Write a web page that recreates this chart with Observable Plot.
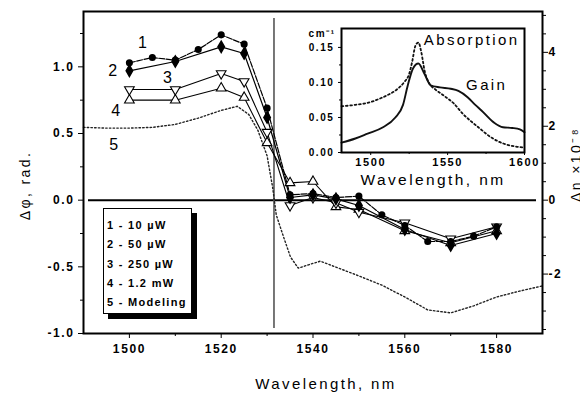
<!DOCTYPE html>
<html>
<head>
<meta charset="utf-8">
<script src="https://cdn.jsdelivr.net/npm/d3@7"></script>
<script src="https://cdn.jsdelivr.net/npm/@observablehq/plot@0.6"></script>
<style>
  html, body { margin: 0; padding: 0; background: #fff; overflow: hidden; }
  #chart { position: relative; width: 580px; height: 395px; font-family: "Liberation Sans", Arial, sans-serif; }
  #chart svg { position: absolute; }
  #chart svg text { letter-spacing: 1.6px; }
  #chart svg .wide text { letter-spacing: 2.4px; }
  .legend {
    position: absolute; left: 103px; top: 208px; width: 89px; height: 106px;
    box-sizing: border-box; border: 1.5px solid #000; background: #fff;
    box-shadow: 5px 5px 0 #000; padding: 7px 0 0 3px;
    font: bold 11px "Liberation Sans", Arial, sans-serif; letter-spacing: 1.3px; line-height: 19.3px;
    white-space: nowrap;
  }
</style>
</head>
<body>
<div id="chart"></div>
<script>
// Phase shift Δφ (rad) versus wavelength for four pump powers
const wlFine = [1500, 1505, 1510, 1515, 1520, 1525, 1530, 1535, 1540, 1545, 1550, 1555, 1560, 1565, 1570, 1575, 1580];
const phase10uW = [1.03, 1.07, 1.05, 1.13, 1.24, 1.17, 0.69, 0.04, 0.05, 0.02, 0.03, -0.11, -0.19, -0.31, -0.31, -0.27, -0.20];

const wlCoarse = [1500, 1510, 1520, 1525, 1530, 1535, 1540, 1545, 1550, 1560, 1570, 1580];
const phase50uW = [0.97, 1.04, 1.15, 1.10, 0.62, 0.02, 0.04, 0.01, -0.04, -0.22, -0.34, -0.25];
const phase250uW = [0.83, 0.83, 0.95, 0.89, 0.51, -0.04, 0.02, -0.02, -0.09, -0.17, -0.29, -0.20];
const phase1_2mW = [0.75, 0.75, 0.84, 0.77, 0.43, 0.13, 0.14, -0.05, -0.07, -0.23, -0.32, -0.23];

// Modelled refractive index change Δn (×10⁻⁸, right axis)
const modelWl = [1490, 1495, 1500, 1505, 1510, 1515, 1520, 1523.5, 1526, 1528, 1530, 1531.2, 1532, 1533.6, 1535.1, 1536.8, 1539, 1541.6, 1546, 1550, 1555, 1560, 1565, 1570, 1575, 1580, 1585, 1590];
const modelDn = [1.97, 1.95, 1.95, 1.97, 2.05, 2.22, 2.43, 2.54, 2.32, 1.89, 1.20, 0.35, -0.40, -1.00, -1.54, -1.84, -1.75, -1.65, -1.86, -2.05, -2.30, -2.62, -2.97, -3.05, -2.86, -2.62, -2.46, -2.32];

// Inset: absorption and gain spectra (cm⁻¹)
const absWl = [1481, 1490, 1500, 1506, 1511, 1517, 1522, 1525, 1527, 1529, 1531, 1533, 1535, 1538, 1542, 1547, 1554, 1560, 1565, 1570, 1578, 1586, 1593, 1600];
const absCoef = [0.066, 0.068, 0.072, 0.077, 0.082, 0.090, 0.101, 0.112, 0.130, 0.152, 0.157, 0.142, 0.117, 0.099, 0.090, 0.082, 0.070, 0.055, 0.045, 0.036, 0.022, 0.013, 0.009, 0.007];
const gainWl = [1481, 1490, 1498, 1508, 1516, 1521, 1524, 1527.5, 1531, 1535, 1539, 1545, 1552, 1557, 1563, 1568, 1572, 1580, 1586, 1592, 1597, 1600];
const gainCoef = [0.014, 0.020, 0.027, 0.036, 0.050, 0.068, 0.095, 0.120, 0.127, 0.112, 0.096, 0.093, 0.091, 0.088, 0.079, 0.068, 0.060, 0.043, 0.036, 0.035, 0.033, 0.029];

// Axis ticks
const xMajor = [1500, 1520, 1540, 1560, 1580];
const xMinor = [1510, 1530, 1550, 1570];
const yMajor = [-1, -0.5, 0, 0.5, 1];
const yMinor = [-0.75, -0.25, 0.25, 0.75, 1.25];
const dnMajor = [-2, 0, 2, 4];
const dnMinor = [-3.5, -3, -2.5, -1.5, -1, -0.5, 0.5, 1, 1.5, 2.5, 3, 3.5, 4.5, 5];
const insetXMajor = [1500, 1550, 1600];
const insetXMinor = [1525, 1575];
const insetYMajor = [0, 0.05, 0.10, 0.15];
const insetYMinor = [0.025, 0.075, 0.125];

const legendLabels = ["1 - 10 µW", "2 - 50 µW", "3 - 250 µW", "4 - 1.2 mW", "5 - Modeling"];
const peakWavelength = [1531.5];

// Δn units per radian on the shared vertical scale
const DN_PER_RAD = 3.608;

const zip = (xs, ys) => xs.map((x, i) => ({wl: x, v: ys[i]}));
const s1 = zip(wlFine, phase10uW);
const s2 = zip(wlCoarse, phase50uW);
const s3 = zip(wlCoarse, phase250uW);
const s4 = zip(wlCoarse, phase1_2mW);
const model = modelWl.map((x, i) => ({wl: x, v: modelDn[i] / DN_PER_RAD}));
const absorption = zip(absWl, absCoef);
const gain = zip(gainWl, gainCoef);

// Downward-pointing triangle for the 250 µW series
const triangleDown = {
  draw(context, size) {
    const s3r = Math.sqrt(3);
    const y = -Math.sqrt(size / (s3r * 3));
    context.moveTo(0, -y * 2);
    context.lineTo(-s3r * y, y);
    context.lineTo(s3r * y, y);
    context.closePath();
  }
};

const font = "Liberation Sans, Arial, sans-serif";

const main = Plot.plot({
  width: 580,
  height: 395,
  marginLeft: 83,
  marginRight: 38,
  marginTop: 11,
  marginBottom: 62,
  style: {fontFamily: font, fontSize: "13px", background: "transparent", color: "#000"},
  x: {domain: [1490, 1590]},
  y: {domain: [-1, 1.415]},
  marks: [
    Plot.axisX(xMajor, {tickSize: 5, tickPadding: 6, fontSize: 12, fontWeight: "bold", tickFormat: d => String(d), label: null}),
    Plot.axisX(xMinor, {tickSize: 3, tickFormat: () => "", label: null}),
    Plot.axisY(yMajor, {tickSize: 5, tickPadding: 4, fontSize: 12, fontWeight: "bold", tickFormat: d => d.toFixed(1), label: null}),
    Plot.axisY(yMinor, {tickSize: 3, tickFormat: () => "", label: null}),
    Plot.axisY(dnMajor.map(d => d / DN_PER_RAD), {anchor: "right", tickSize: 5, tickPadding: 1, fontSize: 12, fontWeight: "bold", tickFormat: d => String(Math.round(d * DN_PER_RAD)), label: null}),
    Plot.axisY(dnMinor.map(d => d / DN_PER_RAD), {anchor: "right", tickSize: 3, tickFormat: () => "", label: null}),

    Plot.ruleY([0], {insetLeft: 5, insetRight: 6, stroke: "#000", strokeWidth: 2}),
    Plot.ruleX(peakWavelength, {insetTop: 7, insetBottom: 5, stroke: "#555", strokeWidth: 1.6}),

    Plot.line(model, {x: "wl", y: "v", stroke: "#222", strokeWidth: 1.4, strokeDasharray: "1.5,2.2"}),

    Plot.line(s4, {x: "wl", y: "v", stroke: "#000", strokeWidth: 1.1}),
    Plot.line(s3, {x: "wl", y: "v", stroke: "#000", strokeWidth: 1.1}),
    Plot.line(s2, {x: "wl", y: "v", stroke: "#000", strokeWidth: 1.2}),
    Plot.line(s1, {x: "wl", y: "v", stroke: "#000", strokeWidth: 1.2, strokeDasharray: "6,1.5"}),

    Plot.dot(s4, {x: "wl", y: "v", symbol: "triangle", r: 3.6, fill: "#fff", stroke: "#000", strokeWidth: 1.1}),
    Plot.dot(s3, {x: "wl", y: "v", symbol: triangleDown, r: 3.6, fill: "#fff", stroke: "#000", strokeWidth: 1.1}),
    Plot.dot(s2, {x: "wl", y: "v", symbol: "diamond", r: 3.4, fill: "#000", stroke: "#000"}),
    Plot.dot(s1, {x: "wl", y: "v", symbol: "circle", r: 2.8, fill: "#000", stroke: "#000"}),

    // Curve numbers next to each series
    Plot.text([s1[1]], {x: "wl", y: "v", text: () => "1", dx: -9, dy: -15, fontSize: 16}),
    Plot.text([s2[0]], {x: "wl", y: "v", text: () => "2", dx: -16, dy: 0, fontSize: 16}),
    Plot.text([s3[1]], {x: "wl", y: "v", text: () => "3", dx: -7, dy: -12, fontSize: 16}),
    Plot.text([s4[0]], {x: "wl", y: "v", text: () => "4", dx: -13, dy: 11, fontSize: 16}),
    Plot.text([model[2]], {x: "wl", y: "v", text: () => "5", dx: -15, dy: 17, fontSize: 16}),

    // Axis titles
    Plot.text(["Wavelength, nm"], {frameAnchor: "bottom", text: d => d, textAnchor: "middle", lineAnchor: "middle", dx: 13, dy: 51, fontSize: 15, className: "wide"}),
    Plot.text(["Δφ, rad."], {frameAnchor: "left", text: d => d, rotate: -90, textAnchor: "middle", lineAnchor: "middle", dx: -58, dy: 13, fontSize: 14, className: "wide"}),
    Plot.text(["Δn ×10⁻⁸"], {frameAnchor: "right", text: d => d, rotate: -90, textAnchor: "middle", lineAnchor: "middle", dx: 34, dy: -8, fontSize: 14, className: "wide"}),

    Plot.frame({stroke: "#000", strokeWidth: 2})
  ]
});
main.style.left = "0px";
main.style.top = "0px";

const inset = Plot.plot({
  width: 250,
  height: 175,
  marginLeft: 51,
  marginRight: 16,
  marginTop: 10,
  marginBottom: 41,
  style: {fontFamily: font, fontSize: "11px", background: "transparent", color: "#000"},
  x: {domain: [1481, 1600]},
  y: {domain: [0, 0.177]},
  marks: [
    Plot.axisX(insetXMajor, {tickSize: 3, tickPadding: 3, fontSize: 11, fontWeight: "bold", tickFormat: d => String(d), label: null}),
    Plot.axisX(insetXMinor, {tickSize: 2, tickFormat: () => "", label: null}),
    Plot.axisY(insetYMajor, {tickSize: 3, tickPadding: 4, fontSize: 10, fontWeight: "bold", tickFormat: d => d.toFixed(2), label: null}),
    Plot.axisY(insetYMinor, {tickSize: 2, tickFormat: () => "", label: null}),
    Plot.line(absorption, {x: "wl", y: "v", stroke: "#111", strokeWidth: 1.8, strokeDasharray: "1.8,2.6", curve: "monotone-x"}),
    Plot.line(gain, {x: "wl", y: "v", stroke: "#111", strokeWidth: 1.9, curve: "monotone-x"}),
    Plot.text(["Absorption"], {x: () => 1534.5, y: () => 0.160, text: d => d, textAnchor: "start", fontSize: 15, className: "wide"}),
    Plot.text(["Gain"], {x: () => 1562, y: () => 0.096, text: d => d, textAnchor: "start", fontSize: 15, className: "wide"}),
    Plot.text(["cm⁻¹"], {frameAnchor: "top-left", text: d => d, textAnchor: "start", dx: -33, dy: 1, fontSize: 10, fontWeight: "bold"}),
    Plot.text(["Wavelength, nm"], {frameAnchor: "bottom", text: d => d, textAnchor: "middle", lineAnchor: "middle", dy: 27.5, fontSize: 15.5, className: "wide"}),
    Plot.frame({stroke: "#000", strokeWidth: 2})
  ]
});
inset.style.left = "290px";
inset.style.top = "18px";

const legend = document.createElement("div");
legend.className = "legend";
legend.innerHTML = legendLabels.map(t => `<div>${t}</div>`).join("");

const chart = document.getElementById("chart");
chart.append(main, inset, legend);
</script>
</body>
</html>
